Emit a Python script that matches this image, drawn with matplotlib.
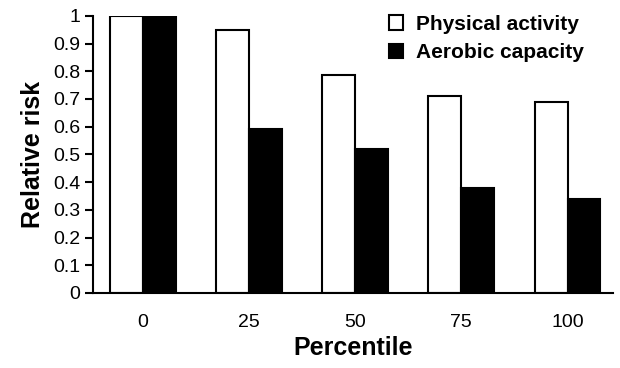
import numpy as np
import matplotlib.pyplot as plt

plt.rcParams['font.family'] = ['Liberation Sans Narrow', 'Liberation Sans', 'DejaVu Sans']

# data
percentiles = ['0', '25', '50', '75', '100']
physical = [1.0, 0.95, 0.785, 0.71, 0.69]
aerobic = [1.0, 0.59, 0.52, 0.38, 0.34]
yticks = [0, 0.1, 0.2, 0.3, 0.4, 0.5, 0.6, 0.7, 0.8, 0.9, 1]
ylabels = ['0', '0.1', '0.2', '0.3', '0.4', '0.5', '0.6', '0.7', '0.8', '0.9', '1']

fig = plt.figure(figsize=(6.2, 3.68), dpi=100)
ax = fig.add_axes([0.15, 0.204, 0.839, 0.753])

x = np.arange(len(percentiles))
w = 0.31
ax.bar(x - w / 2, physical, w, color='white', edgecolor='black', linewidth=1.5,
       label='Physical activity')
ax.bar(x + w / 2, aerobic, w, color='black', edgecolor='black', linewidth=1.5,
       label='Aerobic capacity')

ax.set_xlim(-0.47, 4.43)
ax.set_ylim(0, 1)
ax.set_xticks(x)
ax.set_xticklabels(percentiles, fontsize=14)
ax.set_yticks(yticks)
ax.set_yticklabels(ylabels, fontsize=14)
ax.tick_params(axis='x', length=0, pad=15)
ax.tick_params(axis='y', length=6, width=1.5, direction='out', pad=3)

for s in ['top', 'right']:
    ax.spines[s].set_visible(False)
for s in ['left', 'bottom']:
    ax.spines[s].set_linewidth(1.5)

ax.set_xlabel('Percentile', fontsize=18, fontweight='bold',
              family=['Liberation Sans', 'DejaVu Sans'], labelpad=4)
ax.set_ylabel('Relative risk', fontsize=18, fontweight='bold',
              family=['Liberation Sans', 'DejaVu Sans'], labelpad=6)

leg = fig.legend(loc='upper left', bbox_to_anchor=(370 / 620, 1 + 4 / 368),
                 frameon=False, handlelength=0.7, handleheight=0.7,
                 handletextpad=0.6, labelspacing=0.45,
                 prop={'family': ['Liberation Sans', 'DejaVu Sans'],
                       'weight': 'bold', 'size': 15})

fig.savefig('out.png', dpi=100)
